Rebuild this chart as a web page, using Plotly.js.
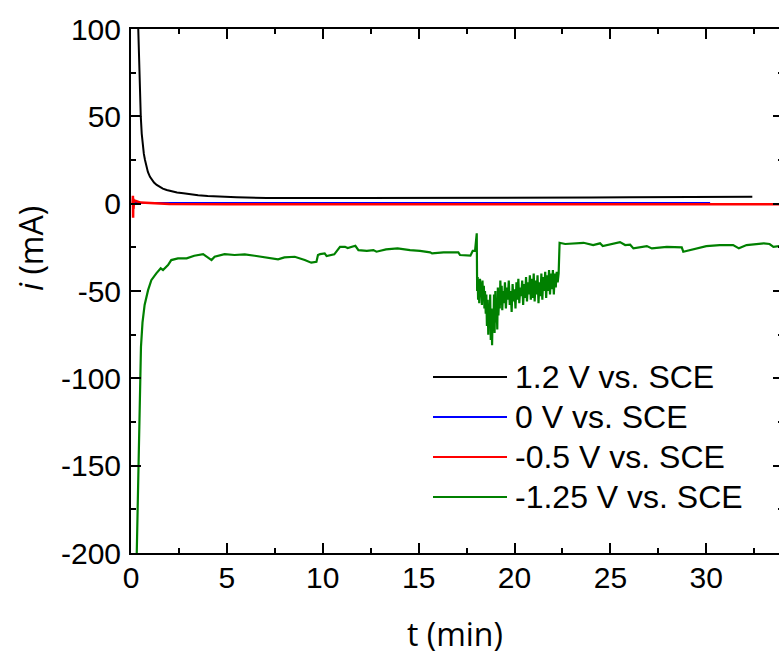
<!DOCTYPE html>
<html><head><meta charset="utf-8">
<script src="https://cdn.plot.ly/plotly-3.0.1.min.js"></script>
<style>html,body{margin:0;padding:0;overflow:hidden;background:#fff}</style>
</head><body><div id="chart"></div>
<script>
// Series names and colours
const names = ["1.2 V vs. SCE", "0 V vs. SCE", "-0.5 V vs. SCE", "-1.25 V vs. SCE"];
const colors = ["#000000", "#0000ff", "#ff0000", "#008000"];

// 1.2 V vs. SCE (black)
const tBlack = [0.25,0.3,0.38,0.43,0.51,0.56,0.61,0.67,0.73,0.8,0.88,0.99,1.1,1.2,1.34,1.5,1.66,1.86,2.1,2.4,2.73,3.1,3.5,4.0,4.47,5.5,7.08,8.8,10.3,12,14,16,18,20,22,24,26,28,30,31.5,32.4];
const iBlack = [220,140,99.5,76,49.8,40,32.6,28.5,25,21.5,18.2,15.4,13.5,12.1,10.7,9.5,8.6,7.8,7.0,6.4,5.9,5.3,4.8,4.4,4.1,3.7,3.2,3.0,3.2,3.2,3.2,3.2,3.3,3.4,3.5,3.6,3.7,3.8,3.9,4.0,4.0];

// 0 V vs. SCE (blue)
const tBlue = [0.1,0.2,0.5,1,2,5,10,15,20,25,30.2];
const iBlue = [0.2,0.6,0.5,0.4,0.4,0.4,0.4,0.4,0.4,0.4,0.4];

// -0.5 V vs. SCE (red)
const tRed = [0.08,0.1,0.11,0.12,0.13,0.16,0.25,0.5,1,2,5,10,15,20,25,30,34];
const iRed = [0,4.5,-8,3,-3,2,1.5,0.6,0.2,-0.2,-0.4,-0.4,-0.4,-0.4,-0.4,-0.4,-0.4];

// -1.25 V vs. SCE (green)
const tGreen = [0.3,0.38,0.46,0.52,0.6,0.71,0.89,1.06,1.32,1.55,1.67,1.93,2.1,2.45,2.9,3.3,3.76,4.2,4.36,4.88,5.4,5.93,6.45,6.97,7.67,8.0,8.54,9.06,9.4,9.67,9.75,9.86,10.1,10.2,10.6,10.9,11.16,11.3,11.7,11.86,12.3,12.64,12.8,13.3,13.9,14.55,15.07,15.6,15.7,16.3,17.07,17.16,17.7,17.82,17.94,18.03,
  18.05,18.08,18.1,18.13,18.16,18.2,18.23,18.26,18.3,18.33,18.36,18.4,18.43,18.46,18.5,18.53,18.56,18.6,18.63,18.66,18.7,18.73,18.76,18.8,18.83,18.86,18.9,18.93,18.96,19.0,19.03,19.06,19.1,19.13,19.16,19.2,19.23,19.26,19.3,19.33,19.36,19.4,19.45,19.5,19.55,19.6,19.65,19.7,19.75,19.8,19.85,19.9,19.95,20.0,20.05,20.1,20.15,20.2,20.25,20.3,20.35,20.4,20.45,20.5,20.55,20.6,20.65,20.7,20.75,20.8,20.85,20.9,20.95,21.0,21.05,21.1,21.15,21.2,21.25,21.3,21.35,21.4,21.45,21.5,21.55,21.6,21.65,21.7,21.75,21.8,21.85,21.9,21.95,22.0,22.05,22.1,22.15,22.2,22.25,22.3,
  22.35,22.64,23.6,24.1,24.46,24.6,25.5,25.77,26.03,26.2,26.9,27.16,27.94,28.72,28.8,29.5,30.0,30.7,31.4,31.7,32.1,33.0,33.3,33.5,33.75,34];
const iGreen = [-200,-150,-101,-82,-68,-58,-49.5,-43.8,-39.9,-37,-38,-35.2,-32.3,-31.3,-31.3,-29.8,-28.9,-32.3,-30.4,-28.9,-29.4,-29,-29.8,-30.7,-31.9,-30.8,-30.4,-32.3,-33.8,-33.3,-29.4,-28.9,-28.5,-30,-29,-24.7,-24.7,-25.4,-24.1,-26.6,-27,-26.6,-27.5,-26.2,-25.6,-26.6,-27,-27.9,-28.5,-27.9,-27.9,-29.4,-29.8,-27,-27,-17,
  -50,-42,-55,-44,-57,-43,-52,-45,-58,-44,-55,-47,-60,-50,-63,-52,-70,-55,-75,-58,-66,-52,-78,-60,-81,-62,-72,-52,-74,-50,-68,-55,-72,-48,-64,-52,-60,-44,-58,-47,-61,-50,-57,-45,-60,-48,-55,-44,-58,-50,-62,-46,-56,-49,-60,-45,-55,-43,-57,-48,-53,-44,-58,-46,-54,-42,-56,-45,-52,-41,-55,-43,-54,-40,-56,-44,-52,-41,-57,-45,-53,-40,-55,-42,-50,-39,-54,-41,-50,-38,-52,-40,-49,-38,-52,-40,-48,-39,-45,-40,
  -22.4,-23.1,-22.4,-23.7,-22.7,-24.3,-22,-23.7,-23.5,-25.6,-24.3,-25.6,-24.7,-25,-27.5,-25.6,-24.3,-23.7,-23.7,-25.6,-23.7,-22.7,-23.1,-24.7,-24.3,-24];

// Axis ticks
const xTicks = [0,5,10,15,20,25,30];
const yTicks = [-200,-150,-100,-50,0,50,100];

const traces = [
  {x:tBlack, y:iBlack, name:names[0], mode:'lines', line:{color:colors[0], width:2}},
  {x:tBlue, y:iBlue, name:names[1], mode:'lines', line:{color:colors[1], width:2}},
  {x:tRed, y:iRed, name:names[2], mode:'lines', line:{color:colors[2], width:2.5}},
  {x:tGreen, y:iGreen, name:names[3], mode:'lines', line:{color:colors[3], width:2.2}}
];

// Plot area geometry (px) used to place the hand-drawn legend
const W = 784, H = 654, ML = 131, MR = 1, MT = 29, MB = 101;
const PW = W - ML - MR, PH = H - MT - MB;
const px2x = p => (p - ML) / PW;
const px2y = p => (H - MB - p) / PH;

const legendRowsPx = [377, 417, 457, 497];
const shapes = [], annotations = [];
names.forEach((n, k) => {
  const yp = px2y(legendRowsPx[k]);
  shapes.push({type:'line', xref:'paper', yref:'paper', x0:px2x(433), x1:px2x(507), y0:yp, y1:yp,
    line:{color:colors[k], width:2}});
  annotations.push({text:n, xref:'paper', yref:'paper', x:px2x(513), y:yp, xanchor:'left', yanchor:'middle',
    showarrow:false, font:{family:'Liberation Sans, Arial, sans-serif', size:32, color:'#000'}});
});
annotations.push(
  {text:'t (min)', xref:'paper', yref:'paper', x:px2x(455), y:px2y(633), xanchor:'center', yanchor:'middle', showarrow:false,
    font:{family:'Open Sans, sans-serif', size:32, color:'#000'}},
  {text:'<i>i</i> (mA)', xref:'paper', yref:'paper', x:px2x(30), y:px2y(249), xanchor:'center', yanchor:'middle', textangle:-90, showarrow:false,
    font:{family:'Open Sans, sans-serif', size:32, color:'#000'}}
);

const axisCommon = {
  showline:true, linecolor:'#000', linewidth:2, mirror:'ticks',
  ticks:'inside', ticklen:10, tickwidth:2, tickcolor:'#000',
  showgrid:false, zeroline:false,
  tickfont:{family:'Liberation Sans, Arial, sans-serif', size:30, color:'#000'}
};

const layout = {
  width:W, height:H,
  margin:{l:ML, r:MR, t:MT, b:MB},
  paper_bgcolor:'#fff', plot_bgcolor:'#fff',
  showlegend:false,
  xaxis:Object.assign({}, axisCommon, {range:[0,34], tickvals:xTicks, ticktext:xTicks.map(String),
    minor:{dtick:2.5, ticks:'inside', ticklen:5, tickwidth:2, tickcolor:'#000', showgrid:false},
    ticklabelstandoff:-3}),
  yaxis:Object.assign({}, axisCommon, {range:[-200,100], tickvals:yTicks, ticktext:yTicks.map(String),
    minor:{dtick:25, ticks:'inside', ticklen:5, tickwidth:2, tickcolor:'#000', showgrid:false},
    ticklabelstandoff:2}),
  shapes:shapes,
  annotations:annotations
};

Plotly.newPlot('chart', traces, layout, {displayModeBar:false, staticPlot:true});
</script>
</body></html>
